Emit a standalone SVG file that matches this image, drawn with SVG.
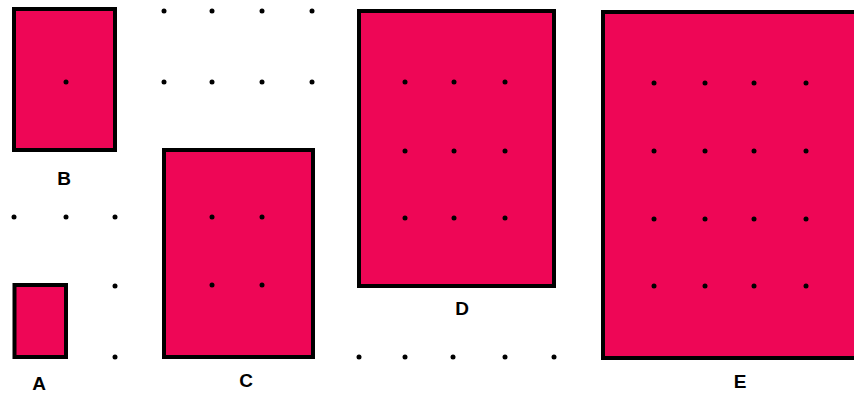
<svg xmlns="http://www.w3.org/2000/svg" width="854" height="396" viewBox="0 0 854 396">
<style>
.box{fill:#EE0656;stroke:#000;stroke-width:4}
.lbl{font-family:"Liberation Sans",Arial,sans-serif;font-weight:bold;font-size:19px;fill:#000;text-anchor:middle}
.dot{fill:#000}
</style>
<defs><circle id="d" r="2.5"/></defs>
<rect width="854" height="396" fill="#fff"/>
<g id="grid-dots" class="dot">
<use href="#d" x="164" y="11"/><use href="#d" x="212" y="11"/><use href="#d" x="262" y="11"/><use href="#d" x="312" y="11"/>
<use href="#d" x="164" y="82"/><use href="#d" x="212" y="82"/><use href="#d" x="262" y="82"/><use href="#d" x="312" y="82"/>
<use href="#d" x="14" y="217"/><use href="#d" x="66" y="217"/><use href="#d" x="115" y="217"/>
<use href="#d" x="115" y="286"/><use href="#d" x="115" y="357"/>
<use href="#d" x="359" y="357"/><use href="#d" x="405" y="357"/><use href="#d" x="453" y="357"/><use href="#d" x="505" y="357"/><use href="#d" x="554" y="357"/>
</g>
<g id="A">
<rect class="box" x="14.5" y="285" width="51.5" height="72"/>
<text class="lbl" x="39" y="390">A</text>
</g>
<g id="B">
<rect class="box" x="14" y="9" width="101" height="141"/>
<use href="#d" x="66" y="82"/>
<text class="lbl" x="64" y="185">B</text>
</g>
<g id="C">
<rect class="box" x="164" y="150" width="149" height="207"/>
<g class="dot"><use href="#d" x="212" y="217"/><use href="#d" x="262" y="217"/><use href="#d" x="212" y="285"/><use href="#d" x="262" y="285"/></g>
<text class="lbl" x="246" y="387">C</text>
</g>
<g id="D">
<rect class="box" x="359" y="11" width="195" height="275"/>
<g class="dot">
<use href="#d" x="405" y="82"/><use href="#d" x="454" y="82"/><use href="#d" x="505" y="82"/>
<use href="#d" x="405" y="151"/><use href="#d" x="454" y="151"/><use href="#d" x="505" y="151"/>
<use href="#d" x="405" y="218"/><use href="#d" x="454" y="218"/><use href="#d" x="505" y="218"/>
</g>
<text class="lbl" x="462" y="315">D</text>
</g>
<g id="E">
<rect class="box" x="603" y="12" width="260" height="346"/>
<g class="dot">
<use href="#d" x="654" y="83"/><use href="#d" x="705" y="83"/><use href="#d" x="754" y="83"/><use href="#d" x="806" y="83"/>
<use href="#d" x="654" y="151"/><use href="#d" x="705" y="151"/><use href="#d" x="754" y="151"/><use href="#d" x="806" y="151"/>
<use href="#d" x="654" y="219"/><use href="#d" x="705" y="219"/><use href="#d" x="754" y="219"/><use href="#d" x="806" y="219"/>
<use href="#d" x="654" y="286"/><use href="#d" x="705" y="286"/><use href="#d" x="754" y="286"/><use href="#d" x="806" y="286"/>
</g>
<text class="lbl" x="740" y="388">E</text>
</g>
</svg>
